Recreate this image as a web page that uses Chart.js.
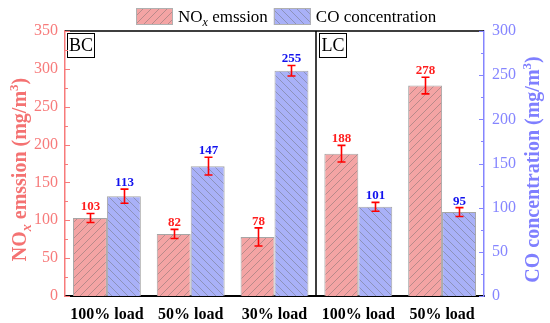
<!DOCTYPE html>
<html>
<head>
<meta charset="utf-8">
<script src="https://cdn.jsdelivr.net/npm/chart.js@4.4.1/dist/chart.umd.min.js"></script>
<style>
html, body { margin: 0; padding: 0; background: #fff; }
#wrap { width: 550px; height: 323px; position: relative; }
</style>
</head>
<body>
<div id="wrap"><canvas id="c"></canvas></div>
<script>
// data
const loads = ['100% load', '50% load', '30% load', '100% load', '50% load'];
const noxValues = [103, 82, 78, 188, 278];
const noxErrors = [6, 6, 12, 11, 11];
const coValues = [113, 147, 255, 101, 95];
const coErrors = [8, 10, 6, 5, 5];
const noxTicks = [0, 50, 100, 150, 200, 250, 300, 350];
const coTicks = [0, 50, 100, 150, 200, 250, 300];
const groupNames = ['BC', 'LC'];

const SERIF = '"Liberation Serif", "Times New Roman", serif';
const RED_AXIS = '#F77B7B';
const BLUE_AXIS = '#8585FF';

// hatched fill like the original plot
function hatch(fill, dir) {
    const s = 8;
    const c = document.createElement('canvas');
    c.width = s; c.height = s;
    const g = c.getContext('2d');
    g.fillStyle = fill;
    g.fillRect(0, 0, s, s);
    g.strokeStyle = 'rgba(105,105,105,0.55)';
    g.lineWidth = 0.8;
    g.beginPath();
    if (dir > 0) {
        g.moveTo(0, s); g.lineTo(s, 0);
        g.moveTo(-1, 1); g.lineTo(1, -1);
        g.moveTo(s - 1, s + 1); g.lineTo(s + 1, s - 1);
    } else {
        g.moveTo(0, 0); g.lineTo(s, s);
        g.moveTo(s - 1, -1); g.lineTo(s + 1, 1);
        g.moveTo(-1, s - 1); g.lineTo(1, s + 1);
    }
    g.stroke();
    return g.createPattern(c, 'repeat');
}

const noxFill = hatch('#F4A4A4', 1);
const coFill = hatch('#A9B1F8', -1);

// text with sub/superscript pieces, centred on (cx, cy)
function drawRich(ctx, parts, cx, cy, rot, color, align) {
    ctx.save();
    ctx.translate(cx, cy);
    ctx.rotate(rot);
    ctx.fillStyle = color;
    ctx.textBaseline = 'alphabetic';
    ctx.textAlign = 'left';
    let total = 0;
    parts.forEach(p => { ctx.font = p.font; p.w = ctx.measureText(p.t).width; total += p.w; });
    let x = align === 'left' ? 0 : -total / 2;
    parts.forEach(p => {
        ctx.font = p.font;
        ctx.fillText(p.t, x, (p.base || 0) + (p.dy || 0));
        x += p.w;
    });
    ctx.restore();
    return total;
}

const decor = {
    id: 'decor',
    afterDatasetsDraw(chart) {
        const { ctx, chartArea: a, scales } = chart;
        const xs = scales.x, yL = scales.y, yR = scales.y1;
        ctx.save();

        // error bars and value labels
        [[0, noxValues, noxErrors, yL, '#FF1E1E'], [1, coValues, coErrors, yR, '#1212EE']].forEach(([di, vals, errs, sc, col]) => {
            chart.getDatasetMeta(di).data.forEach((bar, i) => {
                const cx = Math.round(bar.x) + 0.5;
                const top = sc.getPixelForValue(vals[i] + errs[i]);
                const bot = sc.getPixelForValue(vals[i] - errs[i]);
                ctx.strokeStyle = '#FF0000';
                ctx.lineWidth = 1.6;
                ctx.beginPath();
                ctx.moveTo(cx, top); ctx.lineTo(cx, bot);
                ctx.moveTo(cx - 4, top); ctx.lineTo(cx + 4, top);
                ctx.moveTo(cx - 4, bot); ctx.lineTo(cx + 4, bot);
                ctx.stroke();
                ctx.fillStyle = col;
                ctx.font = 'bold 13px ' + SERIF;
                ctx.textAlign = 'center';
                ctx.textBaseline = 'alphabetic';
                ctx.fillText(String(vals[i]), cx, top - 3);
            });
        });

        // frame: top line and BC | LC separator
        ctx.strokeStyle = '#000';
        ctx.lineWidth = 1.5;
        ctx.beginPath();
        ctx.moveTo(a.left, a.top); ctx.lineTo(a.right, a.top);
        const sepX = Math.round((xs.getPixelForValue(2) + xs.getPixelForValue(3)) / 2);
        ctx.moveTo(sepX, a.top); ctx.lineTo(sepX, a.bottom);
        ctx.stroke();

        // group boxes
        ctx.lineWidth = 1;
        ctx.font = '18px ' + SERIF;
        ctx.textAlign = 'center';
        ctx.textBaseline = 'middle';
        [[a.left + 2, groupNames[0]], [sepX + 3, groupNames[1]]].forEach(([bx, name]) => {
            ctx.fillStyle = '#fff';
            ctx.fillRect(bx + 0.5, a.top + 2.5, 27, 24);
            ctx.strokeRect(bx + 0.5, a.top + 2.5, 27, 24);
            ctx.fillStyle = '#000';
            ctx.fillText(name, bx + 14, a.top + 15.5);
        });

        // inward major and minor ticks
        ctx.lineWidth = 1.2;
        ctx.strokeStyle = RED_AXIS;
        ctx.beginPath();
        noxTicks.forEach((v, i) => {
            const y = Math.round(yL.getPixelForValue(v)) + 0.5;
            ctx.moveTo(a.left, y); ctx.lineTo(a.left + 5, y);
            if (i < noxTicks.length - 1) {
                const ym = Math.round(yL.getPixelForValue((v + noxTicks[i + 1]) / 2)) + 0.5;
                ctx.moveTo(a.left, ym); ctx.lineTo(a.left + 3, ym);
            }
        });
        ctx.stroke();
        ctx.strokeStyle = BLUE_AXIS;
        ctx.beginPath();
        coTicks.forEach((v, i) => {
            const y = Math.round(yR.getPixelForValue(v)) + 0.5;
            ctx.moveTo(a.right, y); ctx.lineTo(a.right - 5, y);
            if (i < coTicks.length - 1) {
                const ym = Math.round(yR.getPixelForValue((v + coTicks[i + 1]) / 2)) + 0.5;
                ctx.moveTo(a.right, ym); ctx.lineTo(a.right - 3, ym);
            }
        });
        ctx.stroke();
        ctx.restore();
    },
    afterDraw(chart) {
        const { ctx, chartArea: a } = chart;
        const midY = (a.top + a.bottom) / 2 + 6;
        const B = 'bold 20px ' + SERIF;

        // axis titles
        drawRich(ctx, [
            { t: 'NO', font: B, base: 7 },
            { t: 'x', font: 'italic bold 14px ' + SERIF, base: 7, dy: 5 },
            { t: ' emssion (mg/m', font: B, base: 7 },
            { t: '3', font: 'bold 13px ' + SERIF, base: 7, dy: -8 },
            { t: ')', font: B, base: 7 }
        ], 19, midY, -Math.PI / 2, '#F47272');
        drawRich(ctx, [
            { t: 'CO concentration (mg/m', font: B, base: 7 },
            { t: '3', font: 'bold 13px ' + SERIF, base: 7, dy: -8 },
            { t: ')', font: B, base: 7 }
        ], 532, midY, -Math.PI / 2, '#7F7FFF');

        // legend
        const R = '17px ' + SERIF;
        let lx = 136;
        const ly = 8;
        ctx.save();
        [[noxFill, [
            { t: 'NO', font: R },
            { t: 'x', font: 'italic 12px ' + SERIF, dy: 4 },
            { t: ' emssion', font: R }
        ]], [coFill, [
            { t: 'CO concentration', font: R }
        ]]].forEach(([fill, parts]) => {
            ctx.fillStyle = fill;
            ctx.fillRect(lx, ly, 37, 17);
            ctx.strokeStyle = '#B0B0B0';
            ctx.lineWidth = 1;
            ctx.strokeRect(lx + 0.5, ly + 0.5, 36, 16);
            const w = drawRich(ctx, parts.map(p => Object.assign({ base: 0 }, p)), lx + 42, ly + 14, 0, '#000', 'left');
            lx += 42 + w + 6;
        });
        ctx.restore();
    }
};

new Chart(document.getElementById('c'), {
    type: 'bar',
    data: {
        labels: loads,
        datasets: [{
            label: 'NOx emssion',
            data: noxValues,
            yAxisID: 'y',
            backgroundColor: noxFill,
            borderColor: '#A6A6A6',
            borderWidth: 1,
            categoryPercentage: 0.81,
            barPercentage: 1
        }, {
            label: 'CO concentration',
            data: coValues,
            yAxisID: 'y1',
            backgroundColor: coFill,
            borderColor: '#A6A6A6',
            borderWidth: 1,
            categoryPercentage: 0.81,
            barPercentage: 1
        }]
    },
    options: {
        responsive: true,
        maintainAspectRatio: false,
        animation: false,
        layout: { padding: { top: 31, left: 0, right: 0, bottom: 0 } },
        plugins: { legend: { display: false }, tooltip: { enabled: false } },
        scales: {
            x: {
                grid: { display: false, drawTicks: false },
                border: { display: true, color: '#000', width: 2 },
                ticks: { color: '#000', font: { family: SERIF, size: 16, weight: 'bold' }, padding: 9, maxRotation: 0 },
                afterFit: s => { s.height = 27; }
            },
            y: {
                position: 'left',
                min: 0, max: 350,
                afterBuildTicks: s => { s.ticks = noxTicks.map(v => ({ value: v })); },
                grid: { display: false, drawTicks: false },
                border: { display: true, color: RED_AXIS, width: 1.5 },
                ticks: { color: RED_AXIS, font: { family: SERIF, size: 16 }, padding: 7 },
                afterFit: s => { s.width = 65; }
            },
            y1: {
                position: 'right',
                min: 0, max: 300,
                afterBuildTicks: s => { s.ticks = coTicks.map(v => ({ value: v })); },
                grid: { display: false, drawTicks: false },
                border: { display: true, color: BLUE_AXIS, width: 1.5 },
                ticks: { color: BLUE_AXIS, font: { family: SERIF, size: 16 }, padding: 8 },
                afterFit: s => { s.width = 66; }
            }
        }
    },
    plugins: [decor]
});
</script>
</body>
</html>
